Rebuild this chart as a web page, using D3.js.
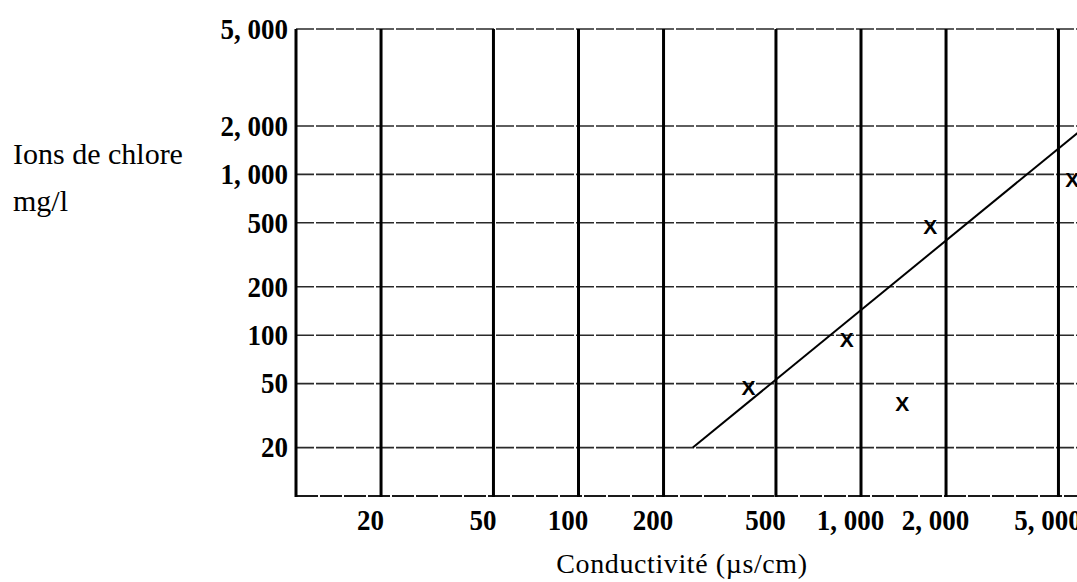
<!DOCTYPE html>
<html>
<head>
<meta charset="utf-8">
<script src="https://cdn.jsdelivr.net/npm/d3@7"></script>
<style>
  html, body { margin: 0; padding: 0; background: #fff; }
  svg { display: block; }
</style>
</head>
<body>
<div class="canva"></div>
<script>
// tick values (log scales)
const xTicks = [20, 50, 100, 200, 500, 1000, 2000, 5000];
const yTicks = [20, 50, 100, 200, 500, 1000, 2000, 5000];

// measured samples: conductivity (µs/cm) vs chloride (mg/l)
const sampleCond = [400, 890, 1400, 1760, 5600];
const sampleChlor = [47, 94, 37.5, 472, 924];

// fitted line endpoints
const fitCond = [254, 5840];
const fitChlor = [20, 1810];

const width = 1077, height = 582;

const svg = d3.select(".canva").append("svg")
    .attr("width", width)
    .attr("height", height)
    .attr("viewBox", [0, 0, width, height]);

// x : plain log scale, ~282 px per decade
const x = d3.scaleLog().domain([10, 10000]).range([296, 1143.5]);
// y : log scale, top band (2000 -> 5000) is stretched in the original
const y = d3.scaleLog().domain([10, 2000, 5000]).range([496, 126, 29]);

const fmt = d => d3.format(",")(d).replace(",", ", ");
const numFont = "'Liberation Serif', 'Times New Roman', serif";

const plot = svg.append("g");

// horizontal grid (thin, dashed like the scan) incl. top frame
plot.append("g")
  .selectAll("line")
  .data(yTicks)
  .join("line")
    .attr("x1", x(10))
    .attr("x2", width)
    .attr("y1", d => y(d))
    .attr("y2", d => y(d))
    .attr("stroke", "#2a2a2a")
    .attr("stroke-width", 1.6)
    .attr("stroke-dasharray", "18,2");

// bottom frame
plot.append("line")
    .attr("x1", x(10)).attr("x2", width)
    .attr("y1", y(10)).attr("y2", y(10))
    .attr("stroke", "#1a1a1a")
    .attr("stroke-width", 2.2)
    .attr("stroke-dasharray", "22,2");

// vertical grid (thick) incl. left frame
plot.append("g")
  .selectAll("line")
  .data([10].concat(xTicks))
  .join("line")
    .attr("x1", d => x(d))
    .attr("x2", d => x(d))
    .attr("y1", y(5000))
    .attr("y2", y(10) + 1)
    .attr("stroke", "#000")
    .attr("stroke-width", 3);

// y axis labels
svg.append("g")
    .attr("transform", `translate(${x(10)}, 0)`)
    .call(d3.axisLeft(y).tickValues(yTicks).tickFormat(fmt).tickSize(0).tickPadding(0))
    .call(g => g.select(".domain").remove())
    .call(g => g.selectAll("text")
        .attr("font-family", numFont)
        .attr("font-weight", "bold")
        .attr("font-size", 29)
        .attr("fill", "#000")
        .attr("transform", "scale(0.93,1)")
        .attr("x", -8 / 0.93));

// x axis labels
svg.append("g")
    .attr("transform", `translate(0, ${y(10)})`)
    .call(d3.axisBottom(x).tickValues(xTicks).tickFormat(fmt).tickSize(0).tickPadding(0))
    .call(g => g.select(".domain").remove())
    .call(g => g.selectAll("text")
        .attr("font-family", numFont)
        .attr("font-weight", "bold")
        .attr("font-size", 29)
        .attr("fill", "#000")
        .attr("dy", null)
        .attr("y", 34)
        .attr("transform", "scale(0.93,1)")
        .attr("x", -11 / 0.93));

// fitted line
const line = d3.line()
    .x(d => x(d[0]))
    .y(d => y(d[1]));

svg.append("path")
    .attr("d", line(d3.zip(fitCond, fitChlor)))
    .attr("fill", "none")
    .attr("stroke", "#000")
    .attr("stroke-width", 2);

// sample markers drawn as "X"
svg.append("g")
  .selectAll("text")
  .data(d3.zip(sampleCond, sampleChlor))
  .join("text")
    .attr("x", d => x(d[0]))
    .attr("y", d => y(d[1]))
    .attr("dy", "0.36em")
    .attr("text-anchor", "middle")
    .attr("font-family", "'Liberation Sans', Arial, sans-serif")
    .attr("font-weight", "bold")
    .attr("font-size", 21)
    .attr("fill", "#000")
    .text("X");

// axis titles
svg.append("text")
    .attr("x", 13)
    .attr("y", 164)
    .attr("font-family", numFont)
    .attr("font-size", 30)
    .attr("fill", "#000")
    .text("Ions de chlore");

svg.append("text")
    .attr("x", 13)
    .attr("y", 211)
    .attr("font-family", numFont)
    .attr("font-size", 30)
    .attr("fill", "#000")
    .text("mg/l");

svg.append("text")
    .attr("x", 682)
    .attr("y", 573)
    .attr("text-anchor", "middle")
    .attr("font-family", numFont)
    .attr("font-size", 28)
    .attr("letter-spacing", 0.6)
    .attr("fill", "#000")
    .text("Conductivité (µs/cm)");
</script>
</body>
</html>
